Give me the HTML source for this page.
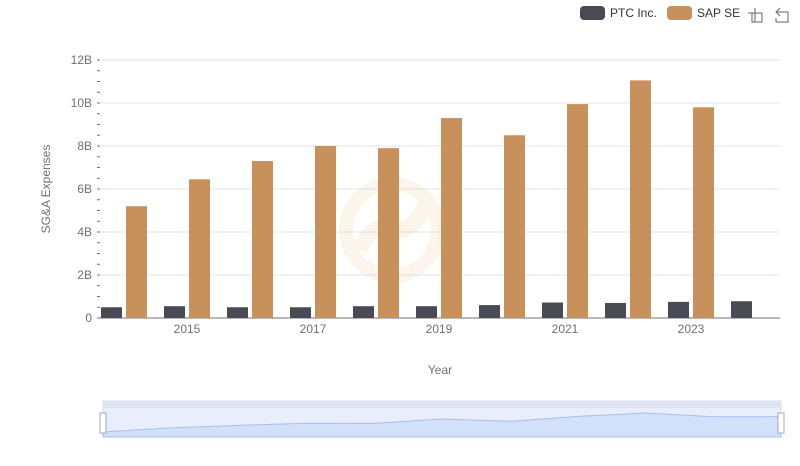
<!DOCTYPE html>
<html><head><meta charset="utf-8"><style>
body{margin:0;background:#fff;font-family:"Liberation Sans",sans-serif}
svg text{font-family:"Liberation Sans",sans-serif}
</style></head><body>
<svg id="c" width="800" height="461" xmlns="http://www.w3.org/2000/svg"></svg>
<script>
const years=[2014,2015,2016,2017,2018,2019,2020,2021,2022,2023,2024];
const ptc=[0.5,0.55,0.5,0.5,0.55,0.55,0.6,0.72,0.7,0.75,0.78];
const sap=[5.2,6.45,7.3,8.0,7.9,9.3,8.5,9.95,11.05,9.8,null];
const yTicks=[0,2,4,6,8,10,12];
const yLabels=["0","2B","4B","6B","8B","10B","12B"];
const NS="http://www.w3.org/2000/svg",svg=document.getElementById('c');
function el(t,a,txt){const e=document.createElementNS(NS,t);for(const k in a)e.setAttribute(k,a[k]);if(txt!=null)e.textContent=txt;svg.appendChild(e);return e;}
const x0=92.5,bw=63,yb=318,ys=21.5;
const X=i=>x0+bw*(i+0.5), Y=v=>yb-v*ys;
yTicks.forEach((t,i)=>{
 let g=el('line',{x1:100,x2:780,y1:Y(t),y2:Y(t),stroke:t===0?'#6e7079':'#e0e6f1'});
 
 let l=el('text',{x:92,y:Y(t)+4,'text-anchor':'end','font-size':12,fill:'#6e7079'},yLabels[i]);
 
});
for(let v=0;v<=12;v+=0.5){let m=el('line',{x1:97,x2:100,y1:Y(v),y2:Y(v),stroke:'#6e7079'});}
let wm=el('g',{opacity:0.12});
const w1=document.createElementNS(NS,'circle');w1.setAttribute('cx',392);w1.setAttribute('cy',230);w1.setAttribute('r',46);w1.setAttribute('fill','none');w1.setAttribute('stroke','#e8b060');w1.setAttribute('stroke-width',14);wm.appendChild(w1);
const w2=document.createElementNS(NS,'path');w2.setAttribute('d','M360 250 C380 200 400 260 425 205');w2.setAttribute('fill','none');w2.setAttribute('stroke','#e8b060');w2.setAttribute('stroke-width',16);wm.appendChild(w2);
years.forEach((yr,i)=>{
 let b=el('rect',{x:X(i)-23,y:Y(ptc[i]),width:21,height:ptc[i]*ys,fill:'#4a4a55'});
 
 if(sap[i]!=null){let s=el('rect',{x:X(i)+2,y:Y(sap[i]),width:21,height:sap[i]*ys,fill:'#c8915c'});
 }
 if(yr%2===1){let t=el('text',{x:X(i),y:333,'text-anchor':'middle','font-size':12,fill:'#6e7079'},yr);
 }
});
let yt=el('text',{x:50,y:189,'text-anchor':'middle','font-size':12,fill:'#6e7079',transform:'rotate(-90 50 189)'},'SG&A Expenses');

let xt=el('text',{x:440,y:374,'text-anchor':'middle','font-size':12,fill:'#6e7079'},'Year');

let l1=el('rect',{x:580,y:6,width:25,height:14,rx:4,fill:'#4a4a55'});
let l1t=el('text',{x:610,y:17,'font-size':12,fill:'#333'},'PTC Inc.');
let l2=el('rect',{x:667,y:6,width:25,height:14,rx:4,fill:'#c8915c'});
let l2t=el('text',{x:697,y:17,'font-size':12,fill:'#333'},'SAP SE');
let z1=el('path',{d:'M748 13h14M755 8v14M752 13v9h10v-9',stroke:'#666',fill:'none'});
let z2=el('path',{d:'M780 8l-4 4 4 4M776 12h12v10h-12v-4',stroke:'#666',fill:'none'});
let dz=el('rect',{x:103,y:401,width:678,height:36,fill:'#e8eefc',stroke:'#d2dbee'});
el('rect',{x:103,y:401,width:678,height:7,fill:'#dde3f1'});
const tot=years.map((y,i)=>ptc[i]+(sap[i]!=null?sap[i]:(sap[i-1]||0)));
const mn=Math.min(...tot),mx=Math.max(...tot);
let pts=tot.map((v,i)=>[103+678*i/10, 432-(v-mn)/(mx-mn)*19]);
let d='M103 437 '+pts.map(p=>'L'+p[0]+' '+p[1]).join(' ')+' L781 437Z';
let a=el('path',{d:d,fill:'#d3e0fa',stroke:'#a8bff0'});
[103,781].forEach(hx=>{let h=el('rect',{x:hx-3,y:413,width:6,height:20,fill:'#fff',stroke:'#a0a8c0'});});
</script>
</body></html>
